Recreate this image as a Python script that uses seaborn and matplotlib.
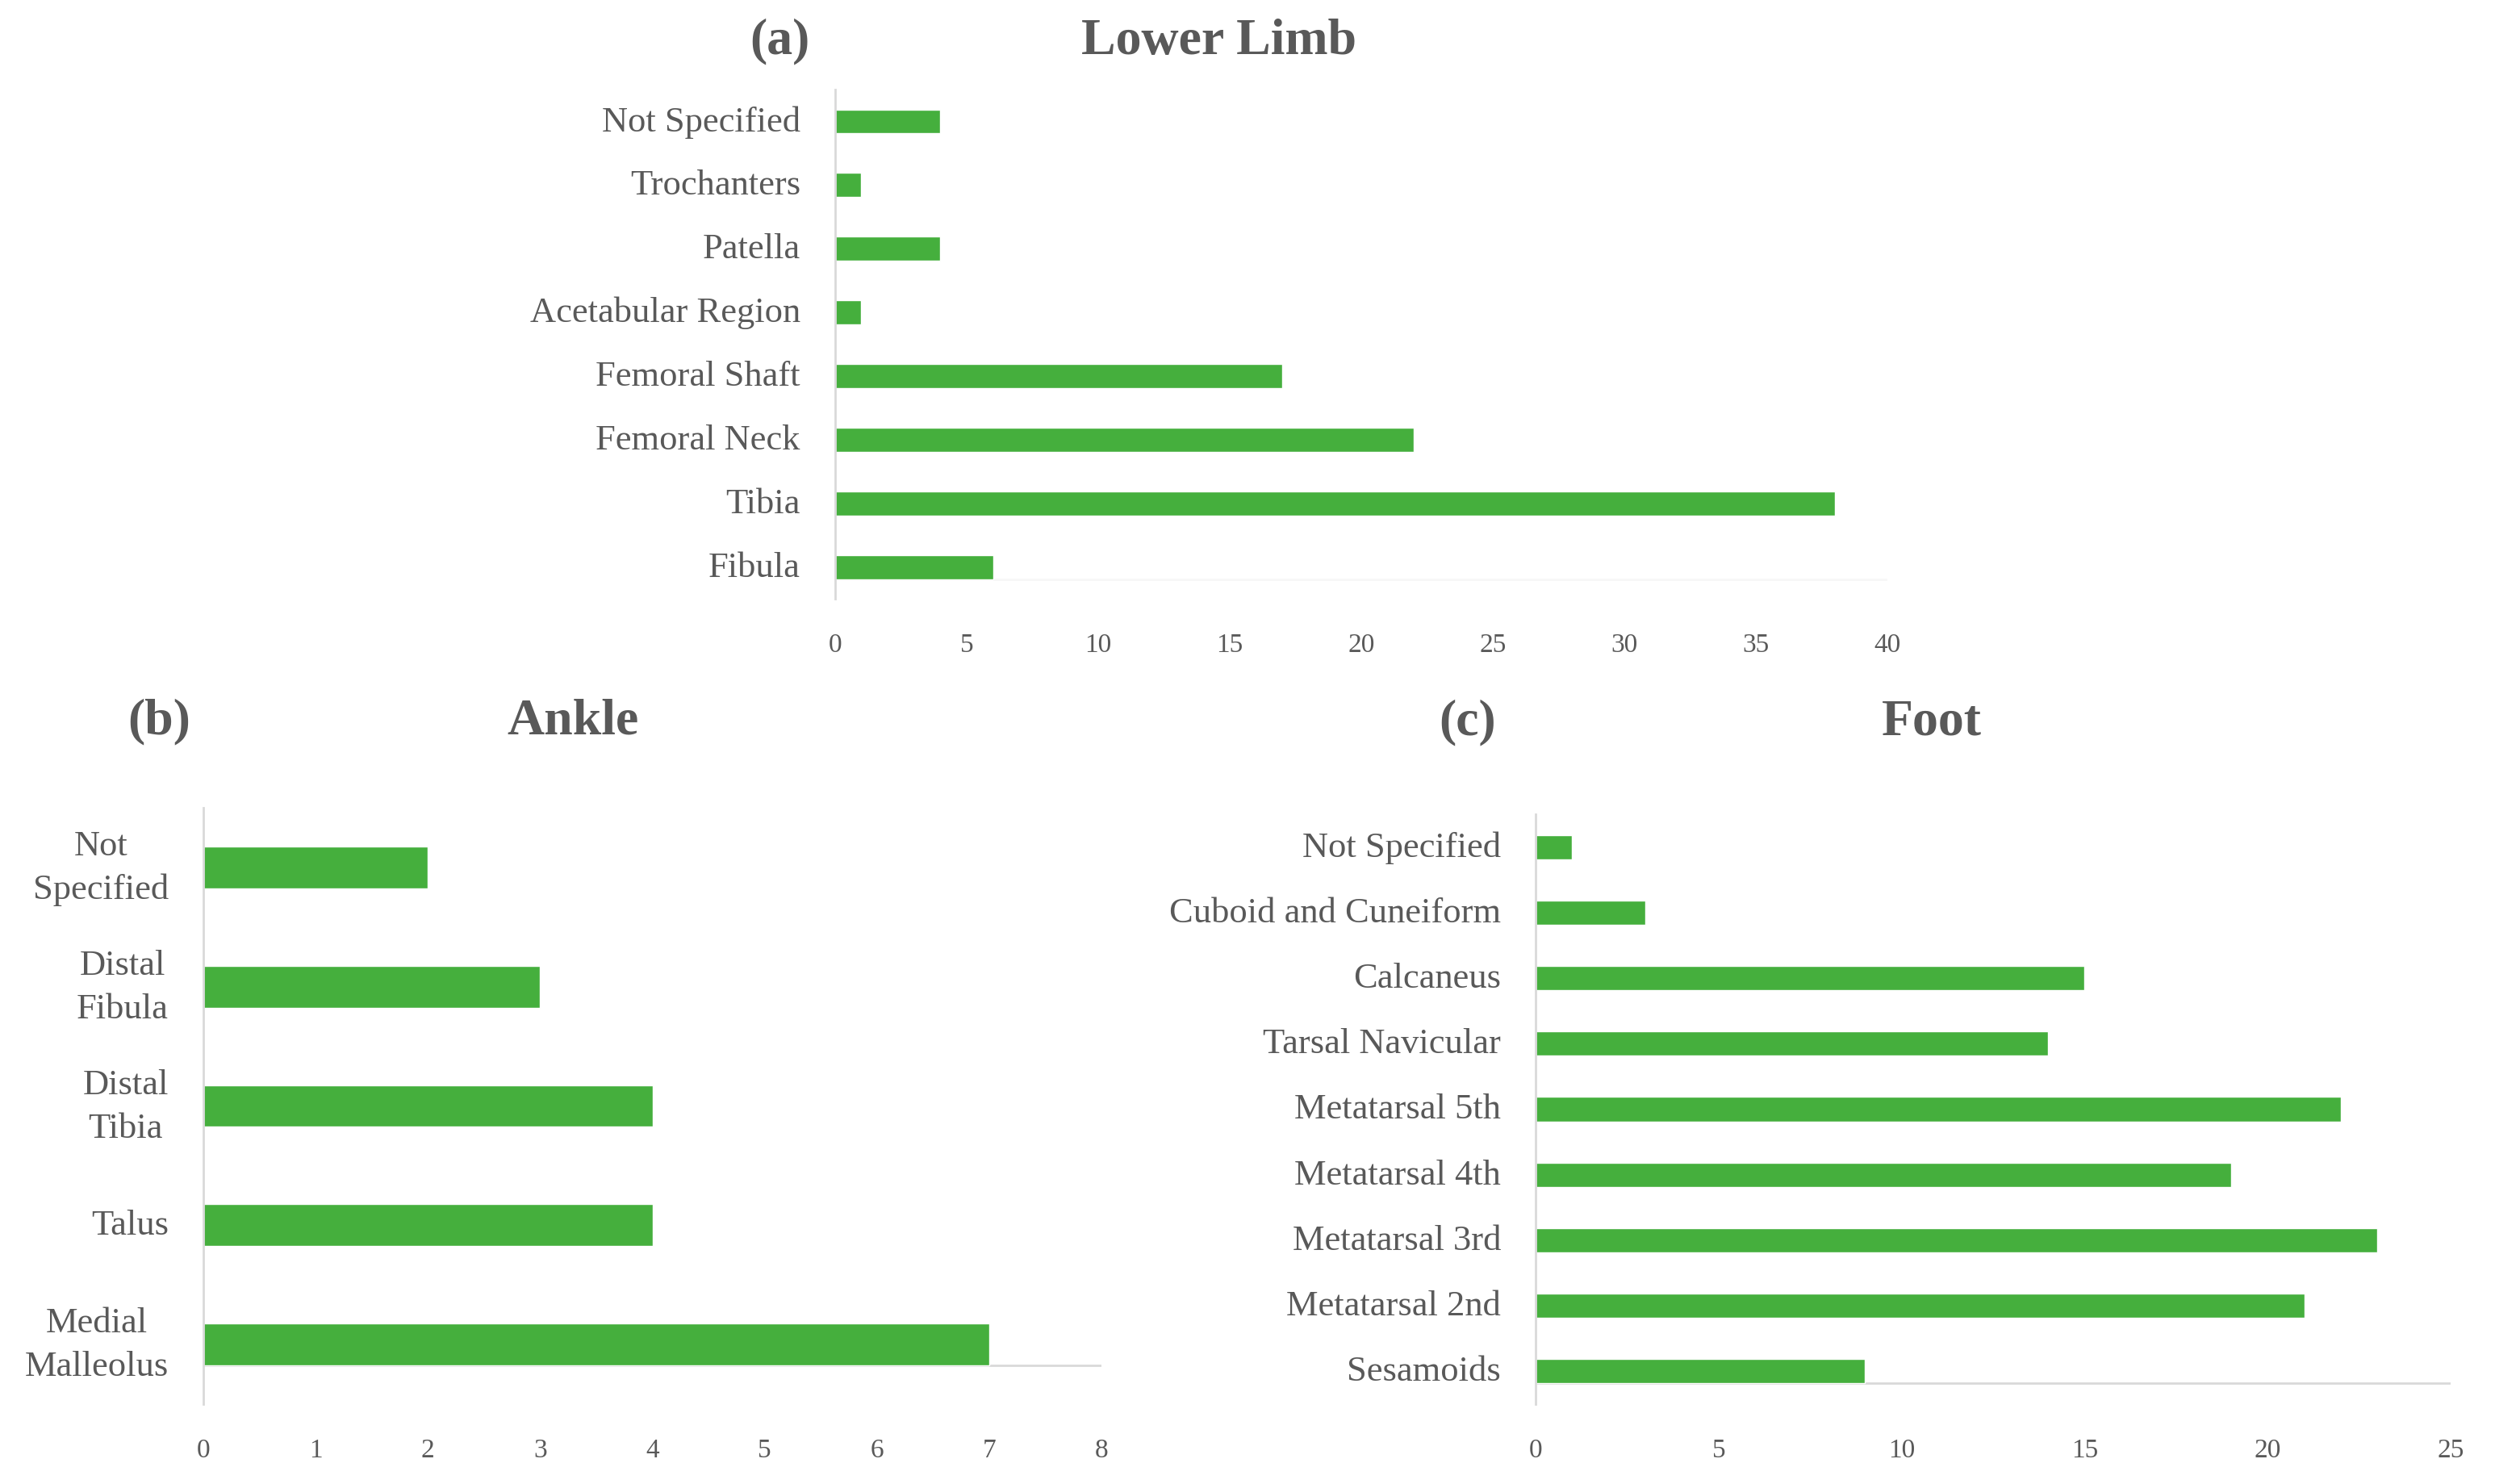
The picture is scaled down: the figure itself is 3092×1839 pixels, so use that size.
import matplotlib
matplotlib.use("Agg")
import matplotlib.pyplot as plt
import seaborn as sns

# data
limb_labels = ["Not Specified", "Trochanters", "Patella", "Acetabular Region",
               "Femoral Shaft", "Femoral Neck", "Tibia", "Fibula"]
limb_values = [4, 1, 4, 1, 17, 22, 38, 6]

ankle_labels = ["Not\nSpecified", "Distal\nFibula", "Distal\nTibia", "Talus", "Medial\nMalleolus"]
ankle_values = [2, 3, 4, 4, 7]

foot_labels = ["Not Specified", "Cuboid and Cuneiform", "Calcaneus", "Tarsal Navicular",
               "Metatarsal 5th", "Metatarsal 4th", "Metatarsal 3rd", "Metatarsal 2nd", "Sesamoids"]
foot_values = [1, 3, 15, 14, 22, 19, 23, 21, 9]

sns.set_style("white")
plt.rcParams['font.family'] = ['Liberation Serif', 'DejaVu Serif']

GREEN = "#45AF3D"
TXT = "#595959"
AXC = "#D9D9D9"

fig = plt.figure(figsize=(30.92, 18.4), dpi=100)


def panel(rect, labels, values, xmax, step, base_line_color, bw):
    ax = fig.add_axes(rect)
    sns.barplot(x=values, y=labels, orient="h", color=GREEN, saturation=1,
                width=bw, ax=ax)
    ax.set_xlim(0, xmax)
    ax.set_ylim(len(labels) - 0.5, -0.5)
    ax.set_xticks(range(0, xmax + 1, step))
    ax.set_xlabel("")
    ax.set_ylabel("")
    for s in ["top", "right", "bottom"]:
        ax.spines[s].set_visible(False)
    ax.spines["left"].set_color(AXC)
    ax.spines["left"].set_linewidth(2)
    # category axis line sits under the last bar
    if base_line_color:
        ax.axhline(len(labels) - 1 + bw / 2, color=base_line_color, lw=2, zorder=0)
    ax.tick_params(axis="y", length=0, pad=31, labelsize=32, labelcolor=TXT)
    ax.tick_params(axis="x", length=0, pad=30, labelsize=24, labelcolor=TXT)
    for lab in ax.get_yticklabels():
        lab.set_multialignment("center")
        lab.set_linespacing(1.45)
        lab.set_va("center")
    return ax


panel([0.3347, 0.5962, 0.4218, 0.3429], limb_labels, limb_values, 40, 5, "#F7F7F7", 0.38)
panel([0.0815, 0.0538, 0.3600, 0.4016], ankle_labels, ankle_values, 8, 1, AXC, 0.35)
panel([0.6155, 0.0538, 0.3667, 0.3973], foot_labels, foot_values, 25, 5, AXC, 0.37)

tkw = dict(fontsize=46, fontweight="bold", color=TXT, ha="center", va="center")
fig.text(0.3124, 0.9720, "(a)", **tkw)
fig.text(0.4884, 0.9720, "Lower Limb", **tkw)
fig.text(0.0637, 0.5140, "(b)", **tkw)
fig.text(0.2296, 0.5140, "Ankle", **tkw)
fig.text(0.5880, 0.5135, "(c)", **tkw)
fig.text(0.7743, 0.5135, "Foot", **tkw)

fig.savefig("out.png", dpi=100)
